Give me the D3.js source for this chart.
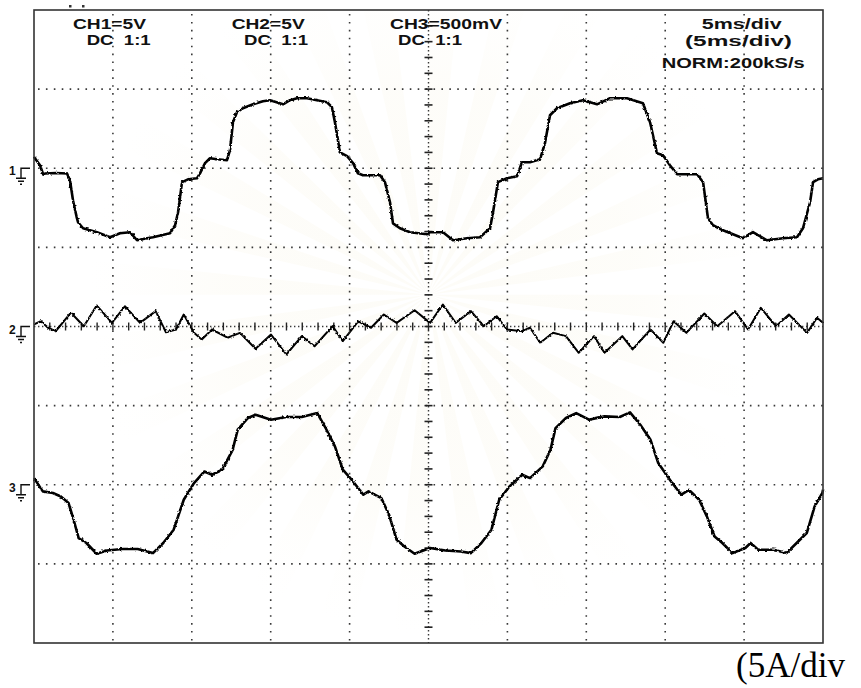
<!DOCTYPE html>
<html>
<head>
<meta charset="utf-8">
<script src="https://cdn.jsdelivr.net/npm/d3@7/dist/d3.min.js"></script>
<style>
  html, body { margin: 0; padding: 0; background: #fff; }
  svg { display: block; }
  .hdr { font-family: "Liberation Sans", Arial, sans-serif; font-weight: bold; font-size: 15px; fill: #111; }
  .gnd { font-family: "Liberation Sans", Arial, sans-serif; font-weight: bold; font-size: 12px; fill: #111; }
  .note { font-family: "Liberation Serif", "Times New Roman", serif; font-size: 35px; fill: #000; }
</style>
</head>
<body>
<svg id="scope" width="861" height="688"></svg>
<script>
// Channel settings
const channelLabels = ["CH1=5V", "CH2=5V", "CH3=500mV"];
const couplingLabels = ["DC  1:1", "DC  1:1", "DC  1:1"];
const voltsPerDiv = [5, 5, 0.5];
const groundDiv = [2, 0, -2];          // ground reference of each channel, in divisions from centre
const groundMarks = ["1", "2", "3"];
const timebaseLabels = ["5ms/div", "(5ms/div)", "NORM:200kS/s"];
const probeNote = "(5A/div";

// Captured samples: [time (ms), volts]
const ch1 = [
  [0,0.71],[0.38,0.19],[0.59,-0.40],[0.70,-0.33],[1.4,-0.30],[2.09,-0.33],[2.28,-0.76],[2.47,-2.02],
  [2.72,-3.16],[2.79,-3.41],[3.11,-3.79],[3.99,-4.04],[4.82,-4.36],[5.45,-4.11],[6.08,-4.04],
  [6.53,-4.55],[7.16,-4.42],[7.54,-4.36],[8.62,-4.11],[8.94,-3.60],[9.13,-2.78],[9.38,-0.88],
  [9.76,-0.70],[10.33,-0.63],[10.52,-0.32],[10.84,0.32],[11.15,0.63],[11.60,0.57],[12.23,0.51],
  [12.42,1.14],[12.61,2.91],[12.86,3.54],[13.24,3.79],[13.88,4.04],[14.51,4.23],[14.96,4.30],
  [15.78,4.04],[16.22,4.30],[16.67,4.42],[17.30,4.42],[17.93,4.30],[18.57,4.17],[18.88,3.86],
  [19.07,2.91],[19.39,1.01],[19.84,0.76],[20.22,0.32],[20.53,-0.32],[20.85,-0.44],[21.93,-0.44],
  [22.24,-0.88],[22.56,-2.15],[22.75,-3.48],[23.19,-3.79],[23.83,-4.04],[24.90,-4.17],[25.10,-4.04],
  [25.92,-4.04],[26.55,-4.55],[27.44,-4.42],[28.26,-4.36],[28.90,-3.79],[29.09,-2.78],[29.40,-0.88],
  [29.97,-0.63],[30.61,-0.51],[30.92,0.38],[31.43,0.38],[32.07,0.57],[32.38,1.58],[32.70,3.35],
  [33.14,3.79],[33.97,4.11],[34.79,4.30],[35.68,4.04],[36.50,4.42],[37.58,4.42],[38.59,4.11],
  [39.04,2.91],[39.48,0.95],[39.86,0.82],[40.30,0.19],[40.75,-0.38],[42.02,-0.38],[42.40,-0.88],
  [42.71,-3.16],[43.03,-3.60],[43.66,-3.92],[44.93,-4.42],[45.56,-4.04],[46.45,-4.55],[47.47,-4.42],
  [48.35,-4.36],[48.73,-3.79],[49.18,-2.15],[49.37,-0.88],[49.68,-0.70],[50.00,-0.63]
];

const ch2 = [
  [0,0.13],[0.44,0.33],[0.89,-0.08],[1.37,-0.30],[2.34,0.87],[3.16,0.02],[3.97,1.33],[4.94,0.23],
  [5.76,1.28],[6.72,0.23],[7.71,0.97],[8.36,-0.36],[9.00,-0.19],[9.49,0.76],[10.14,-0.40],
  [10.63,-0.82],[11.28,-0.19],[12.26,-0.71],[13.05,-0.40],[14.04,-1.41],[15.02,-0.51],[15.99,-1.77],
  [16.97,-0.61],[17.78,-1.25],[18.92,0.02],[19.57,-0.93],[20.54,0.33],[21.36,-0.08],[22.17,0.76],
  [22.98,0.23],[24.12,1.03],[25.10,0.23],[25.91,1.39],[26.72,0.23],[27.69,0.97],[28.50,0.02],
  [29.32,0.65],[29.97,-0.19],[30.94,-0.30],[31.43,-0.08],[32.08,-1.03],[32.89,-0.40],[33.71,-0.61],
  [34.52,-1.66],[35.49,-0.61],[36.15,-1.66],[37.28,-0.61],[37.93,-1.45],[39.07,-0.19],[39.88,-1.03],
  [40.53,0.33],[41.34,-0.40],[42.48,0.82],[43.30,0.02],[44.42,0.97],[45.25,-0.19],[46.06,1.18],
  [47.02,0.02],[47.84,0.76],[48.99,-0.40],[49.62,0.55],[50.00,0.23]
];

const ch3 = [
  [0,0.042],[0.56,-0.042],[1.20,-0.052],[1.70,-0.074],[2.19,-0.116],[2.51,-0.221],[2.83,-0.337],
  [3.32,-0.368],[3.97,-0.436],[4.63,-0.415],[5.60,-0.406],[6.57,-0.406],[7.54,-0.432],[8.19,-0.368],
  [8.85,-0.284],[9.49,-0.095],[10.14,0.011],[10.80,0.084],[11.28,0.063],[11.93,0.095],[12.59,0.221],
  [12.91,0.348],[13.56,0.422],[14.04,0.442],[15.02,0.411],[15.99,0.428],[16.97,0.428],[17.95,0.453],
  [18.43,0.368],[19.07,0.242],[19.57,0.095],[20.22,0.021],[20.87,-0.063],[21.20,-0.042],[22.01,-0.084],
  [22.50,-0.190],[22.98,-0.348],[23.47,-0.390],[24.12,-0.436],[25.10,-0.400],[26.07,-0.415],
  [27.05,-0.422],[27.69,-0.432],[28.35,-0.368],[28.99,-0.284],[29.48,-0.095],[30.13,-0.011],
  [30.94,0.063],[31.43,0.042],[32.24,0.116],[32.73,0.221],[33.05,0.358],[33.71,0.422],[34.36,0.453],
  [35.17,0.411],[36.15,0.432],[37.12,0.428],[37.77,0.457],[38.42,0.379],[39.07,0.284],[39.56,0.137],
  [40.37,0.021],[41.02,-0.063],[41.51,-0.032],[42.15,-0.095],[42.64,-0.200],[43.13,-0.327],
  [43.62,-0.368],[44.27,-0.432],[45.08,-0.400],[45.41,-0.368],[45.89,-0.411],[46.87,-0.411],
  [47.68,-0.432],[48.33,-0.368],[48.97,-0.305],[49.47,-0.137],[49.96,-0.052],[50.00,-0.032]
];
const channels = [ch1, ch2, ch3];

// Screen geometry
const scrL = 34, scrT = 10, scrR = 823, scrB = 643;
const svg = d3.select("#scope");

const x = d3.scaleLinear().domain([0, 50]).range([scrL, scrR]);
const yDiv = d3.scaleLinear().domain([-4, 4]).range([scrB, scrT]);
const yCh = voltsPerDiv.map((v, i) =>
  d3.scaleLinear().domain([(-4 - groundDiv[i]) * v, (4 - groundDiv[i]) * v]).range([scrB, scrT]));

// Faint background emblem rays
const defs = svg.append("defs");
const cx = x(25), cy = yDiv(0.4);
const rg = defs.append("radialGradient").attr("id", "fade")
  .attr("gradientUnits", "userSpaceOnUse").attr("cx", cx).attr("cy", cy).attr("r", 340);
rg.append("stop").attr("offset", "0%").attr("stop-color", "#f6f1dc").attr("stop-opacity", 0.5);
rg.append("stop").attr("offset", "60%").attr("stop-color", "#f7f2de").attr("stop-opacity", 0.4);
rg.append("stop").attr("offset", "100%").attr("stop-color", "#fbf8ec").attr("stop-opacity", 0);
defs.append("clipPath").attr("id", "scr").append("rect")
  .attr("x", scrL).attr("y", scrT).attr("width", scrR - scrL).attr("height", scrB - scrT);
const rays = svg.append("g").attr("clip-path", "url(#scr)");
const nRays = 28;
d3.range(nRays).forEach(k => {
  const a0 = (k / nRays) * 2 * Math.PI, a1 = a0 + Math.PI / nRays * 0.9;
  const R = 340;
  rays.append("path")
    .attr("d", `M${cx},${cy}L${cx + R * Math.cos(a0)},${cy + R * Math.sin(a0)}L${cx + R * Math.cos(a1)},${cy + R * Math.sin(a1)}Z`)
    .attr("fill", "url(#fade)").attr("opacity", 0.45);
});

// Dotted graticule
const gridColor = "#3a3a3a";
const g = svg.append("g");
d3.range(5, 50, 5).filter(t => t !== 25).forEach(t => {
  g.append("line").attr("x1", x(t)).attr("x2", x(t)).attr("y1", scrT + 4).attr("y2", scrB)
    .attr("stroke", gridColor).attr("stroke-width", 1.6).attr("stroke-dasharray", "1.6,6.31");
});
d3.range(-3, 4).filter(d => d !== 0).forEach(d => {
  g.append("line").attr("x1", scrL + 4).attr("x2", scrR).attr("y1", yDiv(d)).attr("y2", yDiv(d))
    .attr("stroke", gridColor).attr("stroke-width", 1.6).attr("stroke-dasharray", "1.6,6.31");
});
// Centre axes with minor ticks
g.append("line").attr("x1", x(25)).attr("x2", x(25)).attr("y1", scrT).attr("y2", scrB)
  .attr("stroke", gridColor).attr("stroke-width", 1.4).attr("stroke-dasharray", "1.4,2.6");
g.append("line").attr("x1", scrL).attr("x2", scrR).attr("y1", yDiv(0)).attr("y2", yDiv(0))
  .attr("stroke", gridColor).attr("stroke-width", 1.4).attr("stroke-dasharray", "1.4,2.6");
d3.range(1, 50).forEach(t => {
  g.append("line").attr("x1", x(t)).attr("x2", x(t)).attr("y1", yDiv(0) - 4).attr("y2", yDiv(0) + 4)
    .attr("stroke", "#222").attr("stroke-width", 1.4);
});
d3.range(-19, 20).forEach(k => {
  const d = k / 5;
  g.append("line").attr("x1", x(25) - 4).attr("x2", x(25) + 4).attr("y1", yDiv(d)).attr("y2", yDiv(d))
    .attr("stroke", "#222").attr("stroke-width", 1.6);
});

// Traces
const jit = defs.append("filter").attr("id", "jitter")
  .attr("x", "-5%").attr("y", "-5%").attr("width", "110%").attr("height", "110%");
jit.append("feTurbulence").attr("type", "fractalNoise").attr("baseFrequency", 0.45)
  .attr("numOctaves", 1).attr("seed", 4).attr("result", "n");
jit.append("feDisplacementMap").attr("in", "SourceGraphic").attr("in2", "n")
  .attr("scale", 3).attr("xChannelSelector", "R").attr("yChannelSelector", "G");

const traces = svg.append("g").attr("filter", "url(#jitter)");
channels.forEach((data, i) => {
  const line = d3.line().x(d => x(d[0])).y(d => yCh[i](d[1]));
  traces.append("path").datum(data).attr("d", line)
    .attr("fill", "none").attr("stroke", "#000")
    .attr("stroke-width", i === 1 ? 2 : 2.6).attr("stroke-linejoin", "round");
});

// Screen frame
svg.append("rect").attr("x", scrL).attr("y", scrT).attr("width", scrR - scrL).attr("height", scrB - scrT)
  .attr("fill", "none").attr("stroke", "#333").attr("stroke-width", 1.6);
svg.append("rect").attr("x", 69).attr("y", 5).attr("width", 2.5).attr("height", 2.5).attr("fill", "#333");
svg.append("rect").attr("x", 82).attr("y", 5).attr("width", 2.5).attr("height", 2.5).attr("fill", "#333");

// Header readouts
const hdr = svg.append("g");
const chPos = [[73, 86.7], [231.7, 244], [390, 398]];
const chLen = [73, 73, 112];
channelLabels.forEach((s, i) => {
  hdr.append("text").attr("class", "hdr").attr("x", chPos[i][0]).attr("y", 29)
    .attr("textLength", chLen[i]).attr("lengthAdjust", "spacingAndGlyphs").text(s);
  hdr.append("text").attr("class", "hdr").attr("x", chPos[i][1]).attr("y", 45)
    .style("white-space", "pre")
    .attr("textLength", 64).attr("lengthAdjust", "spacingAndGlyphs").text(couplingLabels[i]);
});
const tbPos = [[701.7, 29, 80], [685, 46, 107], [661.7, 68, 143]];
timebaseLabels.forEach((s, i) => {
  hdr.append("text").attr("class", "hdr").attr("x", tbPos[i][0]).attr("y", tbPos[i][1])
    .attr("textLength", tbPos[i][2]).attr("lengthAdjust", "spacingAndGlyphs").text(s);
});

// Ground reference markers
groundMarks.forEach((m, i) => {
  const gy = yCh[i](0);
  const gm = svg.append("g");
  gm.append("text").attr("class", "gnd").attr("x", 9).attr("y", gy + 7).text(m);
  gm.append("path").attr("d", `M30,${gy}H21V${gy + 10}`).attr("fill", "none").attr("stroke", "#111").attr("stroke-width", 1.4);
  gm.append("path").attr("d", `M16,${gy + 10}H26M18,${gy + 13}H24M20,${gy + 16}H22`)
    .attr("fill", "none").attr("stroke", "#111").attr("stroke-width", 1.3);
});

// Probe scale note
svg.append("text").attr("class", "note").attr("x", 736).attr("y", 677).text(probeNote);
</script>
</body>
</html>
